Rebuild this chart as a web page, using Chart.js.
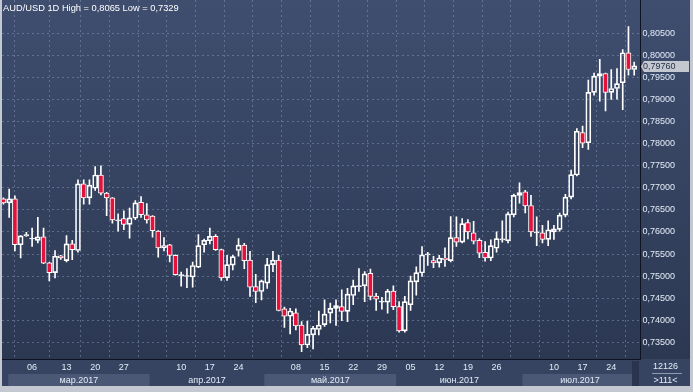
<!DOCTYPE html>
<html><head><meta charset="utf-8">
<script src="https://cdn.jsdelivr.net/npm/chart.js@4.4.1/dist/chart.umd.min.js"></script>
<style>html,body{margin:0;padding:0;background:#c4c9d1;overflow:hidden}canvas{display:block}</style>
</head><body>
<canvas id="c" width="693" height="392"></canvas>
<script>
// ---- data (AUD/USD daily, 24 Feb – 28 Jul 2017) ----
const openP  = [.7675,.7666,.7675,.7571,.7591,.7584,.7581,.7589,.7530,.7508,.7546,.7535,.7573,.7558,.7709,.7677,.7699,.7729,.7688,.7677,
.7625,.7630,.7617,.7631,.7667,.7639,.7636,.7602,.7564,.7571,.7547,.7501,.7499,.7498,.7520,.7571,.7580,.7590,.7560,.7496,
.7525,.7558,.7570,.7536,.7476,.7465,.7484,.7526,.7536,.7426,.7409,.7417,.7389,.7344,.7367,.7379,.7390,.7416,.7427,.7431,
.7420,.7456,.7476,.7478,.7506,.7455,.7441,.7441,.7466,.7431,.7376,.7435,.7487,.7507,.7548,.7535,.7530,.7541,.7535,.7587,
.7577,.7621,.7598,.7581,.7554,.7541,.7563,.7582,.7580,.7639,.7683,.7691,.7660,.7598,.7598,.7583,.7600,.7606,.7638,.7679,
.7729,.7825,.7802,.7916,.7953,.7959,.7916,.7925,.7938,.8006,.7968];
const highP  = [.7677,.7697,.7682,.7592,.7599,.7609,.7633,.7609,.7531,.7558,.7547,.7592,.7581,.7718,.7718,.7718,.7748,.7750,.7690,.7678,
.7641,.7648,.7654,.7671,.7680,.7664,.7637,.7603,.7587,.7572,.7548,.7509,.7517,.7532,.7594,.7584,.7609,.7594,.7561,.7547,
.7547,.7585,.7574,.7556,.7504,.7491,.7540,.7556,.7547,.7430,.7427,.7426,.7397,.7398,.7386,.7421,.7446,.7439,.7446,.7469,
.7472,.7491,.7517,.7510,.7516,.7461,.7452,.7470,.7478,.7442,.7454,.7500,.7521,.7567,.7554,.7545,.7547,.7564,.7635,.7634,
.7630,.7628,.7624,.7585,.7578,.7582,.7600,.7625,.7645,.7686,.7711,.7694,.7683,.7634,.7615,.7625,.7615,.7643,.7685,.7740,
.7834,.7840,.7944,.7960,.7991,.7960,.7968,.7970,.8013,.8065,.7985];
const lowP   = [.7663,.7633,.7557,.7541,.7590,.7567,.7575,.7528,.7489,.7496,.7538,.7532,.7537,.7554,.7663,.7663,.7694,.7684,.7637,.7620,
.7602,.7605,.7586,.7628,.7633,.7620,.7588,.7543,.7557,.7532,.7502,.7477,.7474,.7475,.7519,.7554,.7573,.7558,.7490,.7490,
.7514,.7545,.7517,.7454,.7440,.7446,.7472,.7510,.7421,.7384,.7369,.7378,.7329,.7338,.7335,.7367,.7386,.7394,.7388,.7399,
.7397,.7435,.7465,.7442,.7446,.7422,.7425,.7416,.7424,.7373,.7373,.7422,.7457,.7499,.7524,.7519,.7520,.7522,.7532,.7567,
.7575,.7584,.7573,.7542,.7534,.7535,.7554,.7577,.7575,.7634,.7665,.7643,.7590,.7569,.7575,.7569,.7583,.7602,.7634,.7675,
.7727,.7791,.7787,.7910,.7896,.7874,.7900,.7901,.7877,.7955,.7955];
const closeP = [.7666,.7675,.7571,.7591,.7594,.7585,.7589,.7529,.7508,.7545,.7541,.7573,.7560,.7709,.7677,.7706,.7729,.7688,.7677,.7627,
.7626,.7617,.7632,.7666,.7639,.7627,.7603,.7564,.7569,.7547,.7503,.7502,.7500,.7524,.7569,.7581,.7590,.7560,.7496,.7526,
.7544,.7570,.7535,.7475,.7465,.7489,.7526,.7536,.7422,.7409,.7421,.7387,.7344,.7368,.7382,.7389,.7414,.7427,.7433,.7420,
.7459,.7478,.7478,.7505,.7454,.7448,.7442,.7466,.7431,.7376,.7442,.7489,.7508,.7548,.7549,.7530,.7541,.7537,.7587,.7577,
.7619,.7600,.7579,.7552,.7541,.7569,.7585,.7583,.7641,.7683,.7689,.7659,.7600,.7598,.7583,.7605,.7607,.7638,.7679,.7730,
.7828,.7801,.7916,.7953,.7959,.7916,.7925,.7936,.8006,.7968,.7976];

const weekTickIdx    = [5,11,16,21,26,31,36,41,46,51,56,61,66,71,76,81,86,91,96,101,106];
const weekTickLabels = ['06','13','20','27','','10','17','24','','08','15','22','29','05','12','19','26','','10','17','24'];
const monthLabels    = ['мар.2017','апр.2017','май.2017','июн.2017','июл.2017'];
const monthBounds    = [0.85,25.5,45.5,68.5,90.5,110.6];
const yTickValues    = [0.735,0.740,0.745,0.750,0.755,0.760,0.765,0.770,0.775,0.780,0.785,0.790,0.795,0.800,0.805];
const titleText      = 'AUD/USD 1D High = 0,8065 Low = 0,7329';
const lastPrice      = 0.7976;
const infoTop = '12126', infoBottom = '>111<';

// ---- styles ----
const UP_FILL = 'rgba(0,0,0,0)', DOWN_FILL = '#e3123d', EDGE = '#ffffff';
const GRID = 'rgba(128,146,178,0.55)';
const TXT = '#e4ecf8';
const FONT = 'Liberation Sans';

const idx = openP.map((_, i) => i);
const lowerWick = idx.map(i => ({x: i, y: [lowP[i], Math.min(openP[i], closeP[i])]}));
const upperWick = idx.map(i => ({x: i, y: [Math.max(openP[i], closeP[i]), highP[i]]}));
const bodies    = idx.map(i => ({x: i, y: [openP[i], closeP[i]]}));
const bodyFill  = idx.map(i => closeP[i] < openP[i] ? DOWN_FILL : UP_FILL);

const fmt = v => v.toFixed(5).replace('.', ',');

const decor = {
  id: 'decor',
  beforeDraw(chart) {
    const {ctx, chartArea: a, scales: {x}} = chart;
    const W = chart.width;
    ctx.save();
    ctx.fillStyle = '#c4c9d1';
    ctx.fillRect(0, 0, W, chart.height);
    const g = ctx.createLinearGradient(0, 0, 0, a.bottom);
    g.addColorStop(0, '#3f4e6f');
    g.addColorStop(1, '#2c3852');
    ctx.fillStyle = g;
    ctx.fillRect(2, 0, 688, a.bottom);
    ctx.fillStyle = '#374461';
    ctx.fillRect(2, a.bottom, 688, 386 - a.bottom);
    ctx.fillStyle = '#4a5876';
    for (let m = 0; m < monthLabels.length; m += 2) {
      const x0 = Math.max(a.left + 6, x.getPixelForValue(monthBounds[m]));
      const x1 = Math.min(632, x.getPixelForValue(monthBounds[m + 1]));
      ctx.fillRect(x0, 374, x1 - x0, 12);
    }
    ctx.fillStyle = '#2a344e';
    ctx.fillRect(632, a.bottom + 2, 7, 386 - a.bottom - 2);
    ctx.restore();
  },
  afterDraw(chart) {
    const {ctx, chartArea: a, scales: {x, y}} = chart;
    ctx.save();
    ctx.font = '9px "' + FONT + '"';
    ctx.fillStyle = TXT;
    ctx.textBaseline = 'middle';
    ctx.textAlign = 'center';
    for (let m = 0; m < monthLabels.length; m++) {
      const cx = (x.getPixelForValue(monthBounds[m]) + x.getPixelForValue(monthBounds[m + 1])) / 2;
      ctx.fillText(monthLabels[m], cx, 380.5);
    }
    ctx.fillText(infoTop, 665.5, 366.5);
    ctx.fillText(infoBottom, 665.5, 380.5);
    ctx.strokeStyle = '#8d9ab4';
    ctx.lineWidth = 1;
    ctx.beginPath(); ctx.moveTo(652, 373.5); ctx.lineTo(682, 373.5); ctx.stroke();
    ctx.textAlign = 'left';
    ctx.font = '9.3px "' + FONT + '"';
    ctx.fillStyle = '#ffffff';
    ctx.fillText(titleText, 3, 8);
    const py = Math.round(y.getPixelForValue(lastPrice)) + 0.5;
    ctx.fillStyle = '#c3c7cf';
    ctx.beginPath();
    ctx.moveTo(a.right + 0.5, py);
    ctx.lineTo(a.right + 3.5, py - 5.5);
    ctx.lineTo(689, py - 5.5);
    ctx.lineTo(689, py + 5.5);
    ctx.lineTo(a.right + 3.5, py + 5.5);
    ctx.closePath();
    ctx.fill();
    ctx.fillStyle = '#25324d';
    ctx.font = '9px "' + FONT + '"';
    ctx.fillText(fmt(lastPrice), 643, py + 0.5);
    ctx.restore();
  }
};

new Chart(document.getElementById('c'), {
  type: 'bar',
  data: {
    datasets: [
      {data: lowerWick, backgroundColor: EDGE, borderWidth: 0, barThickness: 1, grouped: false, order: 3},
      {data: upperWick, backgroundColor: EDGE, borderWidth: 0, barThickness: 1, grouped: false, order: 2},
      {data: bodies, backgroundColor: bodyFill, borderColor: EDGE, borderWidth: 1, borderSkipped: false,
       barThickness: 5, minBarLength: 1, grouped: false, order: 1}
    ]
  },
  options: {
    responsive: false,
    animation: false,
    layout: {autoPadding: false, padding: {left: 2, right: 3, top: 0, bottom: 6}},
    plugins: {legend: {display: false}, tooltip: {enabled: false}, title: {display: false}},
    scales: {
      x: {
        type: 'linear', position: 'bottom', min: -0.25, max: 111.1, offset: false,
        afterBuildTicks: s => { s.ticks = weekTickIdx.map(v => ({value: v})); },
        afterFit: s => { s.height = 27; s.paddingLeft = 0; s.paddingRight = 0; },
        ticks: {autoSkip: false, maxRotation: 0, padding: 3, color: TXT,
                font: {family: FONT, size: 9}, callback: (v, i) => weekTickLabels[i]},
        grid: {color: GRID, lineWidth: 1, drawTicks: false},
        border: {display: true, color: '#0d1320', width: 1, dash: [2, 3]}
      },
      y: {
        type: 'linear', position: 'right', min: 0.73122, max: 0.81254,
        afterBuildTicks: s => { s.ticks = yTickValues.map(v => ({value: v})); },
        afterFit: s => { s.width = 49.5; s.paddingTop = 0; s.paddingBottom = 0; },
        ticks: {padding: 2, color: TXT, font: {family: FONT, size: 9}, callback: v => fmt(v)},
        grid: {color: GRID, lineWidth: 1, drawTicks: false},
        border: {display: true, color: '#0d1320', width: 1, dash: [2, 3]}
      }
    }
  },
  plugins: [decor]
});
</script>
</body></html>
